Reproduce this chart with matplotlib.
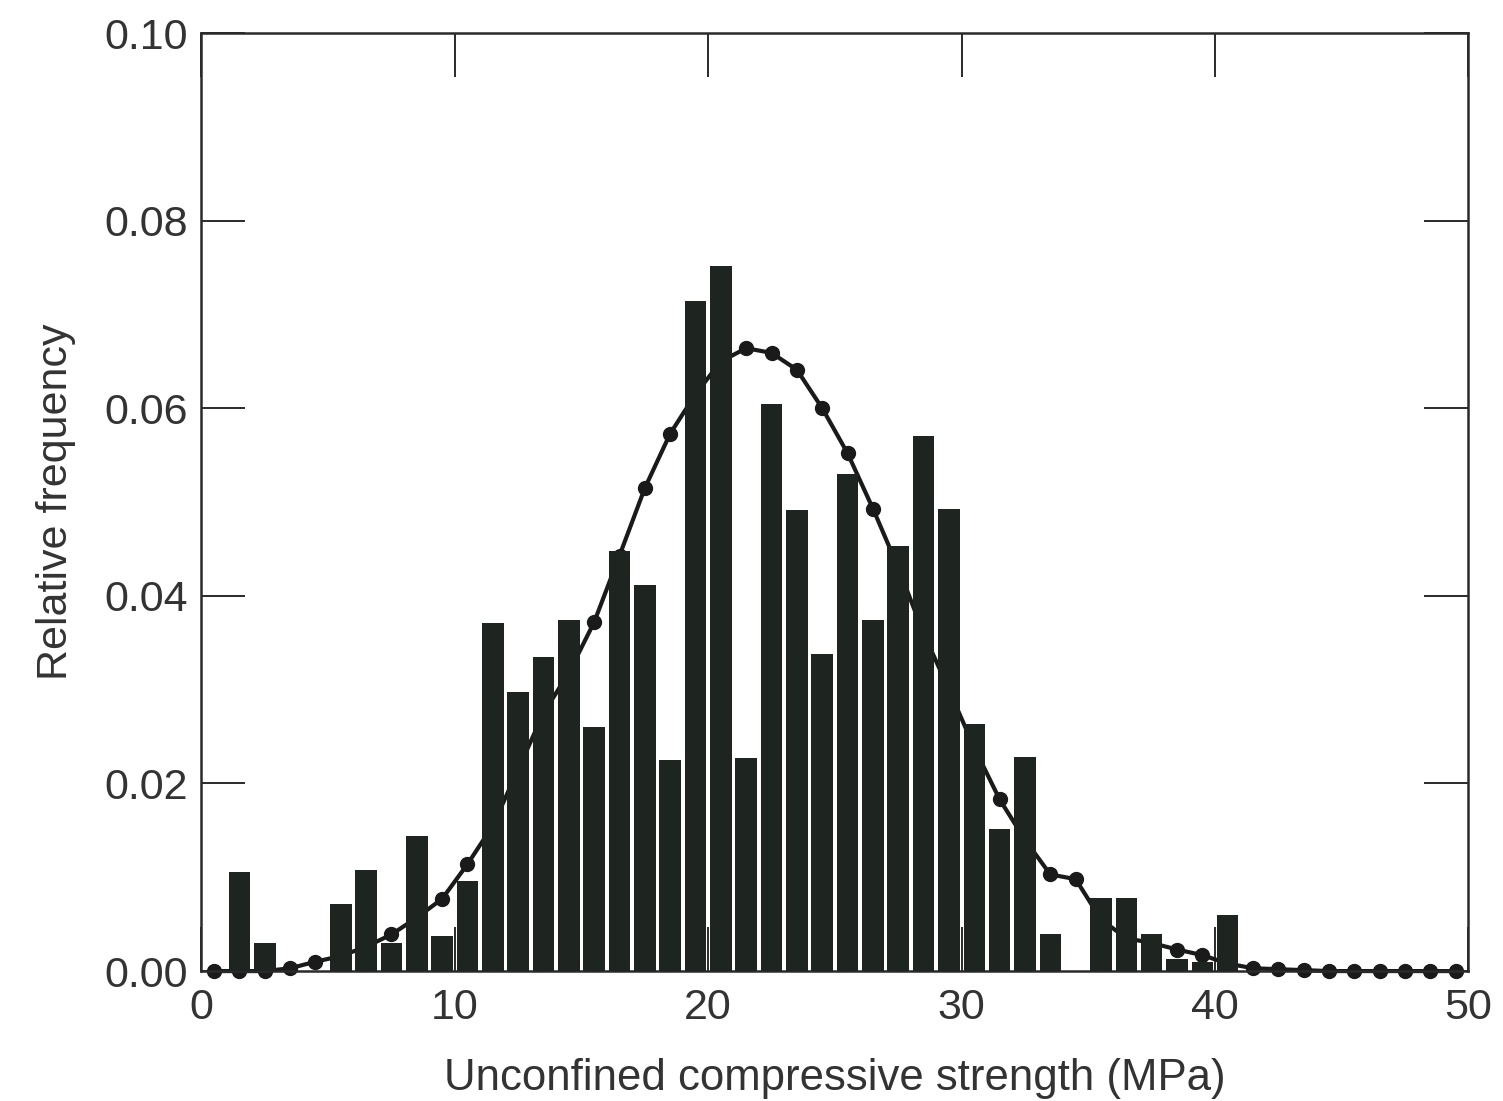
import matplotlib
matplotlib.use("Agg")
import matplotlib.pyplot as plt
from matplotlib.ticker import FixedLocator

# bin mid-points (MPa)
strength_mid = [0.5, 1.5, 2.5, 3.5, 4.5, 5.5, 6.5, 7.5, 8.5, 9.5,
                10.5, 11.5, 12.5, 13.5, 14.5, 15.5, 16.5, 17.5, 18.5, 19.5,
                20.5, 21.5, 22.5, 23.5, 24.5, 25.5, 26.5, 27.5, 28.5, 29.5,
                30.5, 31.5, 32.5, 33.5, 34.5, 35.5, 36.5, 37.5, 38.5, 39.5,
                40.5, 41.5, 42.5, 43.5, 44.5, 45.5, 46.5, 47.5, 48.5, 49.5]

# observed relative frequency (bars)
observed_freq = [0.0, 0.0106, 0.0030, 0.0, 0.0, 0.0072, 0.0108, 0.0030, 0.0144, 0.0037,
                 0.0096, 0.0371, 0.0298, 0.0335, 0.0374, 0.0260, 0.0448, 0.0412, 0.0225, 0.0714,
                 0.0752, 0.0227, 0.0604, 0.0491, 0.0338, 0.0530, 0.0374, 0.0453, 0.0570, 0.0493,
                 0.0263, 0.0151, 0.0228, 0.0039, 0.0, 0.0078, 0.0078, 0.0039, 0.0013, 0.0010,
                 0.0060, 0.0, 0.0, 0.0, 0.0, 0.0, 0.0, 0.0, 0.0, 0.0]

# fitted curve (line with dots)
fitted_freq = [0.0, 0.0, 0.0, 0.0003, 0.0010, 0.0016, 0.0026, 0.0039, 0.0057, 0.0077,
               0.0114, 0.0155, 0.0215, 0.0275, 0.0318, 0.0372, 0.0443, 0.0515, 0.0573, 0.0615,
               0.0650, 0.0664, 0.0659, 0.0641, 0.0600, 0.0552, 0.0493, 0.0430, 0.0360, 0.0300,
               0.0238, 0.0183, 0.0140, 0.0103, 0.0098, 0.0055, 0.0035, 0.0030, 0.0023, 0.0017,
               0.0008, 0.0003, 0.0002, 0.0001, 0.0, 0.0, 0.0, 0.0, 0.0, 0.0]

x_ticks = [0, 10, 20, 30, 40, 50]
y_ticks = [0.00, 0.02, 0.04, 0.06, 0.08, 0.10]
y_tick_labels = ["0.00", "0.02", "0.04", "0.06", "0.08", "0.10"]

plt.rcParams['font.family'] = ['Liberation Sans', 'DejaVu Sans']

fig = plt.figure(figsize=(15.03, 11.01), dpi=100)
ax = fig.add_axes([0.134, 0.118, 0.843, 0.852])

bar_color = "#1e241f"
text_color = "#333333"

ax.plot(strength_mid, fitted_freq, color="#1a1a1a", lw=3.0, marker="o",
        markersize=10, zorder=2, clip_on=False)
ax.bar(strength_mid, observed_freq, width=0.85, color=bar_color, zorder=3)

ax.set_xlim(0, 50)
ax.set_ylim(0, 0.10)

ax.xaxis.set_major_locator(FixedLocator(x_ticks))
ax.set_xticklabels([str(t) for t in x_ticks])
ax.yaxis.set_major_locator(FixedLocator(y_ticks))
ax.set_yticklabels(y_tick_labels)

ax.tick_params(axis="both", which="major", direction="in", length=32, width=1.4,
               top=True, right=True, labelsize=31, colors="#2a2a2a",
               labelcolor=text_color, pad=10)
ax.tick_params(axis="x", pad=12)

for s in ax.spines.values():
    s.set_linewidth(1.8)
    s.set_color("#2a2a2a")

ax.set_xlabel("Unconfined compressive strength (MPa)", fontsize=31.5,
              color=text_color, labelpad=22)
ax.set_ylabel("Relative frequency", fontsize=31, color=text_color, labelpad=20)

fig.savefig("out.png", dpi=100, facecolor="white")
